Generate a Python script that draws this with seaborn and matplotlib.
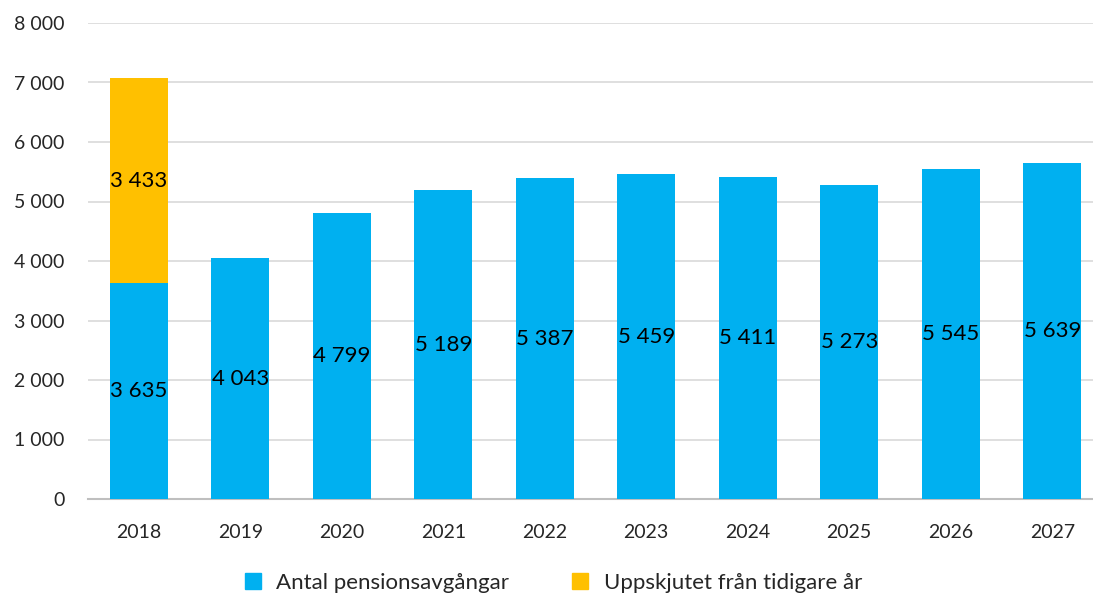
import matplotlib
matplotlib.use("Agg")
import matplotlib.pyplot as plt
import seaborn as sns
import pandas as pd
from matplotlib.lines import Line2D
from matplotlib.ticker import FuncFormatter

# ── Data ─────────────────────────────────────────────────────
years = ["2018", "2019", "2020", "2021", "2022", "2023", "2024", "2025", "2026", "2027"]
antal = [3635, 4043, 4799, 5189, 5387, 5459, 5411, 5273, 5545, 5639]
uppskjutet = [3433, 0, 0, 0, 0, 0, 0, 0, 0, 0]
yticks = [0, 1000, 2000, 3000, 4000, 5000, 6000, 7000, 8000]

blue = "#00B0F0"
yellow = "#FFC000"

df = pd.DataFrame({"year": years, "antal": antal, "upp": uppskjutet})
df["total"] = df["antal"] + df["upp"]

sns.set_style("white")
plt.rcParams["font.family"] = ["Lato", "DejaVu Sans"]

def sv(v):
    return f"{int(v):,}".replace(",", " ")

fig = plt.figure(figsize=(10.93, 5.95), dpi=100)
ax = fig.add_axes([88 / 1093, 1 - 499 / 595, 1015 / 1093, 476 / 595])

# stacked: total in yellow underneath, blue on top
sns.barplot(data=df, x="year", y="total", color=yellow, saturation=1,
            width=0.57, ax=ax, zorder=2, linewidth=0)
sns.barplot(data=df, x="year", y="antal", color=blue, saturation=1,
            width=0.57, ax=ax, zorder=3, linewidth=0)

for i, row in df.iterrows():
    ax.text(i, row["antal"] / 2, sv(row["antal"]), ha="center", va="center",
            fontsize=16, color="black", zorder=4)
    if row["upp"] > 0:
        ax.text(i, row["antal"] + row["upp"] / 2, sv(row["upp"]), ha="center",
                va="center", fontsize=16, color="black", zorder=4)

ax.set_ylim(0, 8000)
ax.set_xlim(-0.5, len(years) - 0.5)
ax.set_yticks(yticks)
ax.yaxis.set_major_formatter(FuncFormatter(lambda v, p: sv(v)))
ax.yaxis.grid(True, color="#d9d9d9", linewidth=1.2, zorder=0)
ax.set_axisbelow(True)
for s in ["top", "right", "left"]:
    ax.spines[s].set_visible(False)
ax.spines["bottom"].set_color("#bfbfbf")
ax.spines["bottom"].set_linewidth(1.5)
ax.tick_params(axis="both", length=0, labelsize=14, labelcolor="#262626")
ax.tick_params(axis="y", pad=17)
ax.tick_params(axis="x", pad=18)
ax.set_xlabel("")
ax.set_ylabel("")

handles = [
    Line2D([], [], marker="s", linestyle="", markersize=12, color=blue,
           label="Antal pensionsavgångar"),
    Line2D([], [], marker="s", linestyle="", markersize=12, color=yellow,
           label="Uppskjutet från tidigare år"),
]
fig.legend(handles=handles, loc="lower center", bbox_to_anchor=(0.5, -0.03),
           ncol=2, frameon=False, fontsize=16, handletextpad=0.05,
           columnspacing=2.2, labelcolor="#262626")

plt.savefig("out.png", dpi=100)
